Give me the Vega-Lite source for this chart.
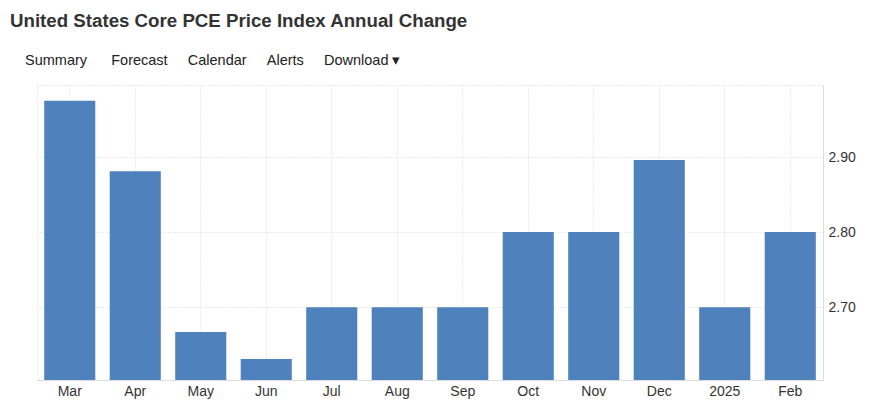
{
  "$schema": "https://vega.github.io/schema/vega-lite/v6.json",
  "width": 786,
  "height": 295,
  "autosize": {"type": "none"},
  "padding": {"left": 37, "top": 85, "right": 61, "bottom": 28},
  "background": "white",
  "title": {
    "text": "United States Core PCE Price Index Annual Change",
    "subtitle": "\u2800\u00a0Summary\u00a0\u00a0\u00a0\u00a0\u00a0\u00a0Forecast\u00a0\u00a0\u00a0\u00a0\u00a0Calendar\u00a0\u00a0\u00a0\u00a0\u00a0Alerts\u00a0\u00a0\u00a0\u00a0\u00a0Download\u00a0▾",
    "anchor": "start",
    "frame": "group",
    "dx": -27,
    "offset": 18,
    "font": "Liberation Sans",
    "fontSize": 18.7,
    "fontWeight": "bold",
    "color": "#333333",
    "subtitleFont": "Liberation Sans",
    "subtitleFontSize": 14.5,
    "subtitleColor": "#222222",
    "subtitlePadding": 23
  },
  "config": {
    "view": {"stroke": "#d8d8d8", "strokeDash": [1, 2]},
    "axis": {
      "labelFont": "Liberation Sans",
      "labelFontSize": 14,
      "labelColor": "#333333",
      "gridColor": "#d8d8d8",
      "gridDash": [1, 2],
      "domainColor": "#dddddd",
      "ticks": false,
      "title": null
    }
  },
  "data": {
    "values": [
      {"month": "Mar", "value": 2.975},
      {"month": "Apr", "value": 2.881},
      {"month": "May", "value": 2.667},
      {"month": "Jun", "value": 2.631},
      {"month": "Jul", "value": 2.7},
      {"month": "Aug", "value": 2.7},
      {"month": "Sep", "value": 2.7},
      {"month": "Oct", "value": 2.8},
      {"month": "Nov", "value": 2.8},
      {"month": "Dec", "value": 2.896},
      {"month": "2025", "value": 2.7},
      {"month": "Feb", "value": 2.8}
    ]
  },
  "mark": {"type": "bar", "color": "#4f81bd", "clip": true},
  "encoding": {
    "x": {
      "field": "month",
      "type": "nominal",
      "sort": null,
      "scale": {"paddingInner": 0.22, "paddingOuter": 0.11},
      "axis": {"labelAngle": 0, "labelPadding": 4, "grid": true, "bandPosition": 0.5, "domainColor": "#dddddd", "domainDash": []}
    },
    "y": {
      "field": "value",
      "type": "quantitative",
      "scale": {"domain": [2.603, 2.996], "nice": false, "zero": false},
      "axis": {"orient": "right", "values": [2.7, 2.8, 2.9], "format": ".2f", "labelPadding": 5, "grid": true}
    }
  }
}
